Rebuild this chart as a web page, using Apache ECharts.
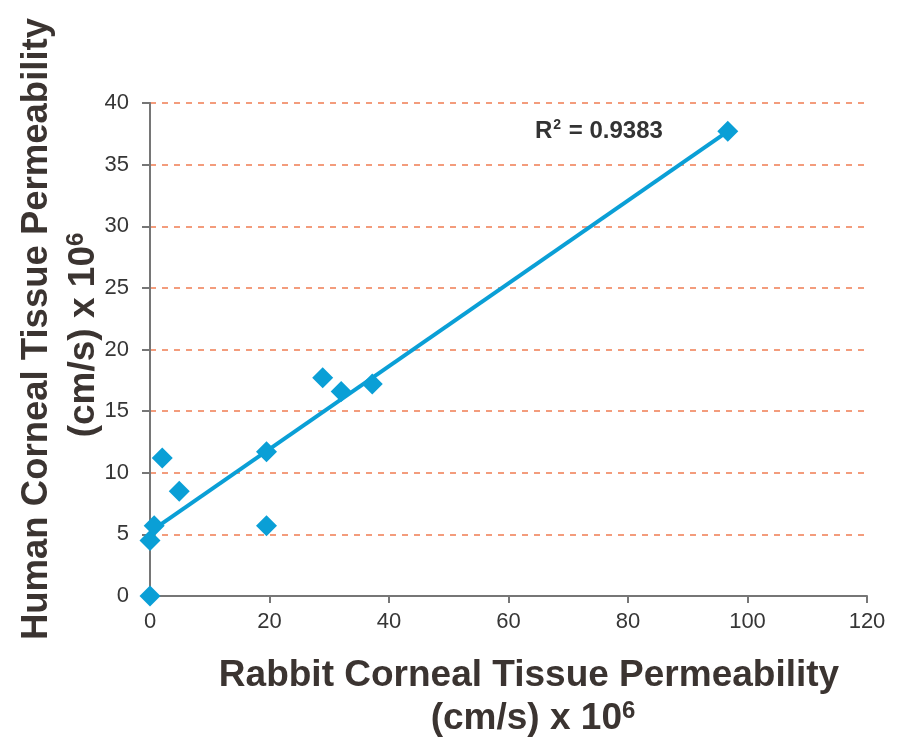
<!DOCTYPE html>
<html><head><meta charset="utf-8">
<script src="https://cdn.jsdelivr.net/npm/echarts@6/dist/echarts.min.js"></script>
<style>html,body{margin:0;padding:0;background:#fff}#c{width:898px;height:741px}</style>
</head><body><div id="c"></div>
<script>
// Rabbit (x) vs Human (y) corneal tissue permeability, (cm/s) x 10^6
const rabbitValues = [0, 0, 0.7, 2.05, 4.9, 19.5, 19.5, 28.9, 32, 37.2, 96.7];
const humanValues  = [0, 4.5, 5.7, 11.2, 8.5, 11.7, 5.7, 17.7, 16.6, 17.2, 37.7];
// linear trendline endpoints
const trendX = [0, 96.7];
const trendY = [5.2, 37.7];
const r2Text = "0.9383";
const xTicks = [0, 20, 40, 60, 80, 100, 120];
const yTicks = [0, 5, 10, 15, 20, 25, 30, 35, 40];

const points = rabbitValues.map((x, i) => [x, humanValues[i]]);
const trend = trendX.map((x, i) => [x, trendY[i]]);

const chart = echarts.init(document.getElementById('c'), null, {renderer: 'canvas'});
const titleColor = '#3b3431';
const font = 'Liberation Sans, Arial, sans-serif';
const blue = '#0a9fd6';
chart.setOption({
  animation: false,
  backgroundColor: '#fff',
  grid: {left: 150, right: 31, top: 103, bottom: 145},
  xAxis: {
    type: 'value', min: xTicks[0], max: xTicks[xTicks.length - 1], interval: 20,
    axisLine: {show: true, lineStyle: {color: '#767676', width: 2}},
    axisTick: {show: true, length: 7, lineStyle: {color: '#767676', width: 2}},
    axisLabel: {color: '#363636', fontSize: 22, fontFamily: font, margin: 15},
    splitLine: {show: false}
  },
  yAxis: {
    type: 'value', min: yTicks[0], max: yTicks[yTicks.length - 1], interval: 5,
    axisLine: {show: true, lineStyle: {color: '#767676', width: 2}},
    axisTick: {show: true, length: 8, lineStyle: {color: '#767676', width: 2}},
    axisLabel: {color: '#363636', fontSize: 22, fontFamily: font, margin: 21},
    splitLine: {show: true, lineStyle: {color: '#f07c52', width: 1.5, type: [6, 6]}}
  },
  series: [
    {
      type: 'line', data: trend, symbol: 'none', z: 2,
      lineStyle: {color: blue, width: 4}
    },
    {
      type: 'scatter', data: points, symbol: 'diamond', symbolSize: 21, z: 3,
      itemStyle: {color: blue, opacity: 1}
    }
  ],
  graphic: [
    {
      type: 'text', left: 535, top: 118,
      style: {
        text: '{b|R}{s|2}{b| = ' + r2Text + '}',
        rich: {
          b: {fontSize: 24, fontWeight: 'bold', fill: '#333', fontFamily: font},
          s: {fontSize: 14, fontWeight: 'bold', fill: '#333', fontFamily: font, verticalAlign: 'top', padding: [0, 1, 12, 1]}
        }
      }
    },
    {
      type: 'text', x: 529, y: 676,
      style: {
        text: 'Rabbit Corneal Tissue Permeability',
        align: 'center', verticalAlign: 'middle',
        fontSize: 37, fontWeight: 'bold', fill: titleColor, fontFamily: font
      }
    },
    {
      type: 'text', x: 533, y: 719,
      style: {
        text: '{b|(cm/s) x 10}{s|6}',
        align: 'center', verticalAlign: 'middle',
        rich: {
          b: {fontSize: 37, fontWeight: 'bold', fill: titleColor, fontFamily: font},
          s: {fontSize: 24, fontWeight: 'bold', fill: titleColor, fontFamily: font, verticalAlign: 'top', padding: [0, 0, 16, 0]}
        }
      }
    },
    {
      type: 'text', x: 37, y: 329, rotation: Math.PI / 2,
      style: {
        text: 'Human Corneal Tissue Permeability',
        align: 'center', verticalAlign: 'middle',
        fontSize: 36.5, fontWeight: 'bold', fill: titleColor, fontFamily: font
      }
    },
    {
      type: 'text', x: 84, y: 335, rotation: Math.PI / 2,
      style: {
        text: '{b|(cm/s) x 10}{s|6}',
        align: 'center', verticalAlign: 'middle',
        rich: {
          b: {fontSize: 37, fontWeight: 'bold', fill: titleColor, fontFamily: font},
          s: {fontSize: 24, fontWeight: 'bold', fill: titleColor, fontFamily: font, verticalAlign: 'top', padding: [0, 0, 16, 0]}
        }
      }
    }
  ]
});
</script></body></html>
